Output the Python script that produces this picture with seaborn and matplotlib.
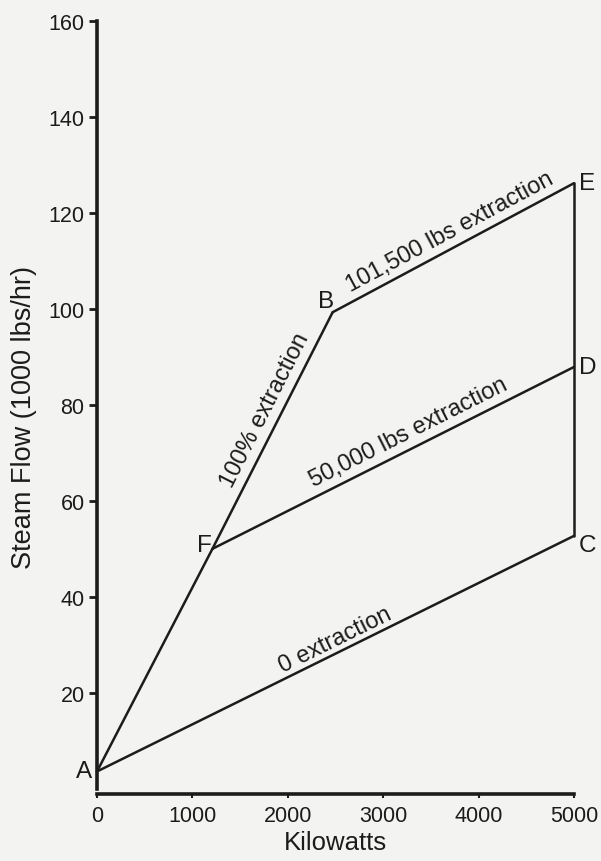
import numpy as np
import pandas as pd
import matplotlib
matplotlib.use("Agg")
import matplotlib.pyplot as plt
import seaborn as sns

# operating points of the turbine (kW, 1000 lbs/hr steam)
point_names = ["A", "F", "B", "E", "D", "C"]
point_kw = [0, 1210, 2470, 5000, 5000, 5000]
point_flow = [3.6, 50.0, 99.3, 126.2, 87.9, 52.7]

# segments drawn between the points
segments = [("A", "F"), ("F", "B"), ("B", "E"), ("F", "D"), ("A", "C"), ("C", "E")]

# labels written along the lines: text, segment, centre (kW, flow)
line_texts = ["101,500 lbs extraction", "100% extraction", "50,000 lbs extraction", "0 extraction"]
line_segs = [("B", "E"), ("F", "B"), ("F", "D"), ("A", "C")]
line_kw = [3700, 1761, 3260, 2495]
line_flow = [116.1, 79.0, 74.4, 31.0]

x_ticks = [0, 1000, 2000, 3000, 4000, 5000]
y_ticks = [20, 40, 60, 80, 100, 120, 140, 160]

ink = "#1c1c1c"
paper = "#f3f3f1"

sns.set_style("ticks")
plt.rcParams["font.family"] = ["Liberation Sans", "DejaVu Sans"]

pts = pd.DataFrame({"kw": point_kw, "flow": point_flow}, index=point_names)

fig = plt.figure(figsize=(6.01, 8.62), dpi=100, facecolor=paper)
ax = fig.add_axes([0.1614, 0.0777, 0.7937, 0.8968])
ax.set_facecolor(paper)

for a, b in segments:
    seg = pts.loc[[a, b]]
    sns.lineplot(x=seg["kw"].values, y=seg["flow"].values, sort=False, estimator=None,
                 color=ink, linewidth=1.8, ax=ax, clip_on=False)

ax.set_xlim(0, 5000)
ax.set_ylim(-1.1, 160)
ax.set_xticks(x_ticks)
ax.set_yticks(y_ticks)
ax.tick_params(axis="y", direction="out", length=6, width=2, color=ink,
               labelsize=15.5, labelcolor=ink, pad=3)
ax.tick_params(axis="x", direction="out", length=3, width=1.5, color=ink,
               labelsize=15.5, labelcolor=ink, pad=5)
sns.despine(ax=ax)
ax.spines["left"].set_bounds(0, 160)
for s in ["left", "bottom"]:
    ax.spines[s].set_linewidth(2.6)
    ax.spines[s].set_color(ink)

ax.set_xlabel("Kilowatts", fontsize=18.5, color=ink, labelpad=3)
ax.set_ylabel("Steam Flow (1000 lbs/hr)", fontsize=19.5, color=ink)
ax.yaxis.set_label_coords(-0.126, 0.488)

# text along lines
for txt, (a, b), x, y in zip(line_texts, line_segs, line_kw, line_flow):
    dx = pts.loc[b, "kw"] - pts.loc[a, "kw"]
    dy = pts.loc[b, "flow"] - pts.loc[a, "flow"]
    ang = np.degrees(np.arctan2(dy, dx))
    ax.text(x, y, txt, fontsize=17, color=ink, ha="center", va="center",
            rotation=ang, rotation_mode="anchor", transform_rotates_text=True)

# point letters
letter_off = {"A": (-5, 0, "right", "center"), "F": (-1, 4, "right", "center"),
              "B": (1, 0, "right", "bottom"), "E": (5, 0, "left", "center"),
              "D": (5, 0, "left", "center"), "C": (5, -9, "left", "center")}
for name in point_names:
    ox, oy, ha, va = letter_off[name]
    ax.annotate(name, (pts.loc[name, "kw"], pts.loc[name, "flow"]),
                xytext=(ox, oy), textcoords="offset pixels", fontsize=17.5,
                color=ink, ha=ha, va=va, annotation_clip=False)

fig.savefig("out.png", dpi=100, facecolor=paper)
